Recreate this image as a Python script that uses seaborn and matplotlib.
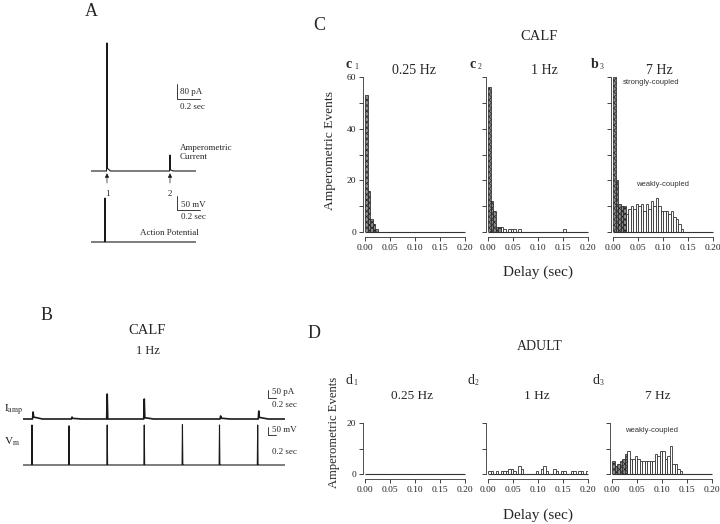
import numpy as np
import pandas as pd
import matplotlib
matplotlib.use("Agg")
import matplotlib.pyplot as plt
import seaborn as sns

# === Data: delay histograms (counts per 5 ms bin, starting at 0 s) ===
bin_w = 0.005
c1_strong = [53, 16, 5, 3, 1]
c1_weak = []
c2_strong = [56, 12, 8, 2, 2]
c2_weak = [2, 1, 0, 1, 1, 1, 0, 1, 0, 0, 0, 0, 0, 0, 0, 0, 0, 0, 0, 0, 0, 0, 0, 0, 0, 1]
b3_strong = [60, 20, 11, 10, 10]
b3_weak = [7, 9, 10, 9, 11, 10, 11, 8, 11, 9, 12, 10, 13, 10, 8, 8, 8, 7, 8, 6, 5, 3, 1]
d1_strong = []
d1_weak = []
d2_strong = []
d2_weak = [1, 1, 0, 1, 0, 1, 1, 1, 2, 2, 1, 0, 3, 2, 0, 0, 0, 0, 0, 1,
           0, 2, 3, 1, 0, 0, 2, 1, 0, 1, 1, 0, 0, 1, 1, 0, 1, 1, 0, 1]
d3_strong = [5, 3, 4, 5, 6, 8]
d3_weak = [9, 6, 6, 7, 6, 5, 5, 5, 5, 5, 5, 8, 7, 9, 9, 6, 7, 11, 4, 4, 2, 1]
delay_ticks = [0.0, 0.05, 0.10, 0.15, 0.20]
delay_labels = ["0.00", "0.05", "0.10", "0.15", "0.20"]

# === Data: recordings (spike time s, peak, decay-tail height) ===
a_amp_times = [0.137, 0.677]
a_amp_peaks = [683, 85]      # pA
a_amp_tails = [14, 6]
a_ap_times = [0.12]
a_ap_peaks = [157]           # mV above rest
b_iamp_times = [0.27, 1.31, 2.25, 3.24, 5.28, 6.30]
b_iamp_peaks = [44, 12, 156, 125, 19, 50]
b_iamp_tails = [12, 4, 0, 8, 5, 10]
b_vm_times = [0.24, 1.23, 2.25, 3.24, 4.26, 5.25, 6.27]
b_vm_peaks = [250, 245, 250, 250, 252, 250, 250]

W, H = 720, 524
sns.set_theme(style="ticks")
plt.rcParams["font.family"] = ["Liberation Serif", "DejaVu Serif"]
plt.rcParams["mathtext.fontset"] = "stix"
plt.rcParams["hatch.linewidth"] = 0.5
plt.rcParams["hatch.color"] = "#222222"

fig = plt.figure(figsize=(7.2, 5.24), dpi=100)
fig.patch.set_facecolor("white")


def ftext(x, y, s, **kw):
    kw.setdefault("ha", "center")
    kw.setdefault("va", "center")
    fig.text(x / W, 1 - y / H, s, **kw)


# === Histograms ===
edges = np.round(np.arange(0, 0.2 + bin_w / 2, bin_w), 4)
centers = edges[:-1] + bin_w / 2


def draw_hist(left_px, zero_px, top_px, ymax, strong, weak, yticks, ylabels):
    ax = fig.add_axes([left_px / W, 1 - zero_px / H, 100 / W, (zero_px - top_px) / H])
    ax.patch.set_alpha(0)
    s = np.zeros(len(centers))
    w = np.zeros(len(centers))
    s[:len(strong)] = strong
    w[len(strong):len(strong) + len(weak)] = weak
    df = pd.DataFrame({"delay": centers, "strong": s, "weak": w})
    sns.histplot(data=df, x="delay", weights="weak", bins=list(edges), ax=ax,
                 color="white", edgecolor="#333333", linewidth=0.6, alpha=1)
    if len(strong):
        sns.histplot(data=df.iloc[:len(strong)], x="delay", weights="strong",
                     bins=list(edges[:len(strong) + 1]), ax=ax, color="#8c8c8c",
                     edgecolor="#222222", linewidth=0.5, hatch="xxxxxx", alpha=1)
    # empty bins: baseline across the whole delay range
    ax.hlines(0, edges[0], edges[-1], color="#333333", lw=0.8, clip_on=False, zorder=3)
    ax.set_xlim(0, 0.2)
    ax.set_ylim(0, ymax)
    ax.set_xticks(delay_ticks)
    ax.set_xticklabels(delay_labels)
    ax.set_yticks(yticks)
    ax.set_yticklabels(ylabels)
    ax.set_xlabel("")
    ax.set_ylabel("")
    ax.tick_params(direction="out", length=3, width=0.6, labelsize=6.8, pad=2,
                   colors="#222222")
    sns.despine(ax=ax, offset={"left": 1.5, "bottom": 3.5}, trim=True)
    for sp in ax.spines.values():
        sp.set_linewidth(0.6)
        sp.set_color("#333333")
    return ax


c_ticks = [0, 10, 20, 30, 40, 50, 60]
c_lab = ["0", "", "20", "", "40", "", "60"]
draw_hist(365, 232, 77, 60, c1_strong, c1_weak, c_ticks, c_lab)
draw_hist(488, 232, 77, 60, c2_strong, c2_weak, c_ticks, [""] * 7)
draw_hist(613, 232, 77, 60, b3_strong, b3_weak, c_ticks, [""] * 7)

d_ticks = [0, 10, 20]
draw_hist(365, 474, 423, 20, d1_strong, d1_weak, d_ticks, ["0", "", "20"])
draw_hist(488, 474, 423, 20, d2_strong, d2_weak, d_ticks, [""] * 3)
draw_hist(612, 474, 423, 20, d3_strong, d3_weak, d_ticks, [""] * 3)

# texts C / D
ftext(319, 26, "C", fontsize=13)
ftext(539, 37, "CALF", fontsize=10.5)
ftext(414, 70, "0.25 Hz", fontsize=10)
ftext(544, 70, "1 Hz", fontsize=10)
ftext(659, 70, "7 Hz", fontsize=10)
for x, lett, sub in [(349, "c", "1"), (473, "c", "2"), (595, "b", "3")]:
    ftext(x, 65, lett, fontsize=10, fontweight="bold")
    ftext(x + 7, 67, sub, fontsize=5.5)
ftext(330, 151, "Amperometric Events", fontsize=9.7, rotation=90)
ftext(538, 272, "Delay (sec)", fontsize=11)
ftext(651, 83, "strongly-coupled", fontsize=5.5, family="Liberation Sans", color="#333333")
ftext(663, 185, "weakly-coupled", fontsize=5.5, family="Liberation Sans", color="#333333")

ftext(314, 334, "D", fontsize=13)
ftext(540, 347, "ADULT", fontsize=10)
ftext(412, 396, "0.25 Hz", fontsize=9.5)
ftext(537, 396, "1 Hz", fontsize=9.5)
ftext(658, 396, "7 Hz", fontsize=9.5)
for x, sub in [(349, "1"), (471, "2"), (596, "3")]:
    ftext(x, 380, "d", fontsize=10)
    ftext(x + 6, 383, sub, fontsize=5.5)
ftext(334, 432, "Amperometric Events", fontsize=9.1, rotation=90)
ftext(538, 515, "Delay (sec)", fontsize=11)
ftext(652, 430, "weakly-coupled", fontsize=5.5, family="Liberation Sans", color="#333333")


# === Traces ===
def trace_ax(x0, x1, base, ppu, ylo, yhi, tmax):
    top = base - yhi * ppu
    bot = base - ylo * ppu
    ax = fig.add_axes([x0 / W, 1 - bot / H, (x1 - x0) / W, (bot - top) / H])
    ax.set_xlim(0, tmax)
    ax.set_ylim(ylo, yhi)
    ax.axis("off")
    return ax


def spike_trace(tmax, times, peaks, tails, rise, decay):
    t, y = [0.0], [0.0]
    for ts, pk, tl in zip(times, peaks, tails):
        t += [ts - rise, ts, ts + rise, ts + decay]
        y += [0, pk, tl, 0]
    t.append(tmax)
    y.append(0.0)
    return t, y


def scale_bar(ax, t0, y0, dt, dy):
    ax.plot([t0, t0, t0 + dt], [y0 + dy, y0, y0], color="k", lw=0.6, clip_on=False)


# panel A
ftext(91, 11, "A", fontsize=13)
ax_amp = trace_ax(91, 196, 171, 15 / 80, -30, 720, 0.9)
t, y = spike_trace(0.9, a_amp_times, a_amp_peaks, a_amp_tails, 0.004, 0.03)
ax_amp.plot(t, y, color="k", lw=0.8)
scale_bar(ax_amp, 0.737, 384, 0.2, 80)
for ts, lab in zip(a_amp_times, ["1", "2"]):
    ax_amp.annotate(lab, xy=(ts, -12), xytext=(ts, -125), ha="center", va="center",
                    fontsize=6.5, annotation_clip=False,
                    arrowprops=dict(arrowstyle="-|>", color="k", lw=0.5,
                                    mutation_scale=6, shrinkA=3, shrinkB=0))
ftext(180, 92, "80 pA", fontsize=6.5, ha="left")
ftext(180, 107, "0.2 sec", fontsize=6.5, ha="left")
ftext(180, 148, "Amperometric", fontsize=6.5, ha="left")
ftext(180, 157, "Current", fontsize=6.5, ha="left")

ax_ap = trace_ax(91, 196, 242, 14 / 50, -15, 170, 0.9)
t, y = spike_trace(0.9, a_ap_times, a_ap_peaks, [0], 0.003, 0.008)
ax_ap.plot(t, y, color="k", lw=0.8)
scale_bar(ax_ap, 0.737, 114, 0.2, 50)
ftext(181, 205, "50 mV", fontsize=6.5, ha="left")
ftext(181, 217, "0.2 sec", fontsize=6.5, ha="left")
ftext(199, 233, "Action Potential", fontsize=6.5, ha="right")

# panel B
ftext(47, 316, "B", fontsize=13)
ftext(147, 331, "CALF", fontsize=10.5)
ftext(148, 351, "1 Hz", fontsize=9)
ax_i = trace_ax(23, 285, 419, 8 / 50, -20, 200, 7.0)
t, y = spike_trace(7.0, b_iamp_times, b_iamp_peaks, b_iamp_tails, 0.015, 0.25)
ax_i.plot(t, y, color="k", lw=1.2)
scale_bar(ax_i, 6.55, 131, 0.2, 50)
ax_v = trace_ax(23, 285, 465, 8 / 50, -20, 270, 7.0)
t, y = spike_trace(7.0, b_vm_times, b_vm_peaks, [0] * 7, 0.01, 0.03)
ax_v.plot(t, y, color="k", lw=0.8)
scale_bar(ax_v, 6.55, 187.5, 0.2, 50)
ftext(272, 392, "50 pA", fontsize=6.5, ha="left")
ftext(272, 405, "0.2 sec", fontsize=6.5, ha="left")
ftext(272, 430, "50 mV", fontsize=6.5, ha="left")
ftext(272, 452, "0.2 sec", fontsize=6.5, ha="left")
ftext(4, 410, r"$\mathrm{I}_{\mathrm{amp}}$", fontsize=8, ha="left")
ftext(4, 442, r"$\mathrm{V}_{\mathrm{m}}$", fontsize=8, ha="left")

fig.savefig("out.png", dpi=100, facecolor="white")
